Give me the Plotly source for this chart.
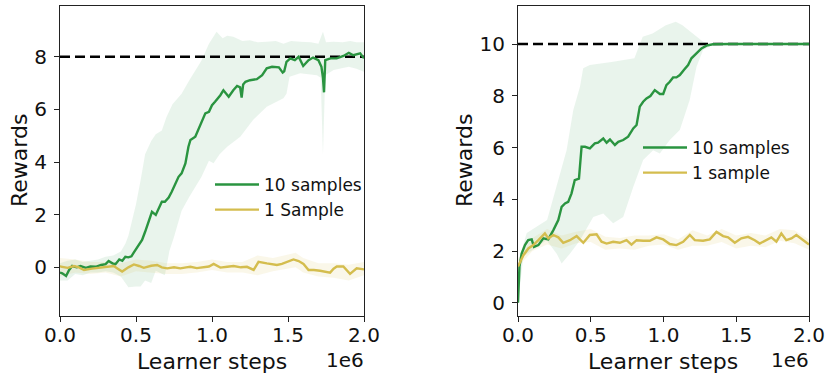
import plotly.graph_objects as go

# ---------------- data (x in units of 1e6 learner steps) ----------------
# Left panel: 10 samples (green) mean
left_10_x = [0.0, 0.015, 0.04, 0.06, 0.08, 0.11, 0.135, 0.17, 0.2, 0.235, 0.27, 0.3, 0.32, 0.345, 0.365,
             0.39, 0.41, 0.43, 0.45, 0.47, 0.485, 0.51, 0.54, 0.56, 0.585, 0.605, 0.63, 0.65, 0.67, 0.69,
             0.715, 0.735, 0.76, 0.78, 0.8, 0.825, 0.845, 0.858, 0.89, 0.91, 0.935, 0.956, 0.98, 1.0,
             1.02, 1.055, 1.075, 1.095, 1.11, 1.14, 1.165, 1.185, 1.195, 1.205, 1.22, 1.25, 1.295, 1.33,
             1.36, 1.395, 1.44, 1.465, 1.475, 1.49, 1.515, 1.545, 1.57, 1.6, 1.635, 1.665, 1.7, 1.72,
             1.73, 1.737, 1.745, 1.78, 1.82, 1.865, 1.9, 1.93, 1.975, 2.0]
left_10_y = [-0.2, -0.23, -0.33, -0.1, 0.05, 0.0, 0.05, -0.02, 0.03, 0.02, 0.09, 0.12, 0.24, 0.15, 0.12,
             0.3, 0.25, 0.4, 0.38, 0.42, 0.56, 0.78, 1.04, 1.35, 1.8, 2.11, 1.99, 2.24, 2.49, 2.49,
             2.65, 2.87, 3.19, 3.44, 3.57, 3.95, 4.58, 4.84, 4.96, 5.22, 5.53, 5.85, 5.91, 6.16,
             6.29, 6.54, 6.73, 6.6, 6.48, 6.73, 6.89, 6.84, 6.45, 6.95, 7.05, 7.11, 7.15, 7.3,
             7.56, 7.62, 7.6, 7.4, 7.45, 7.81, 7.94, 7.87, 8.0, 7.65, 7.87, 7.97, 7.87, 7.62,
             7.2, 6.65, 7.87, 7.94, 7.94, 8.03, 8.15, 8.06, 8.13, 7.94]
left_10_up_x = [0, 0.05, 0.1, 0.15, 0.2, 0.25, 0.3, 0.35, 0.4, 0.43, 0.45, 0.5, 0.53, 0.56, 0.6, 0.63,
                0.67, 0.7, 0.74, 0.8, 0.85, 0.89, 0.93, 0.98, 1.0, 1.03, 1.07, 1.1, 1.14, 1.2, 1.25,
                1.3, 1.36, 1.42, 1.47, 1.52, 1.58, 1.65, 1.7, 1.73, 1.75, 1.8, 1.86, 1.91, 1.95, 2.0]
left_10_up_y = [0.15, 0.25, 0.3, 0.2, 0.25, 0.3, 0.4, 0.45, 0.6, 0.9, 1.2, 2.4, 3.3, 4.3, 4.8, 5.06,
                5.2, 5.7, 6.2, 6.6, 7.1, 7.5, 7.85, 8.5, 8.7, 8.95, 8.7, 8.8, 8.76, 8.6, 8.63,
                8.55, 8.57, 8.6, 8.5, 8.6, 8.57, 8.55, 8.5, 8.95, 8.55, 8.57, 8.55, 8.6, 8.55, 8.55]
left_10_lo_x = [0, 0.05, 0.1, 0.15, 0.2, 0.25, 0.3, 0.35, 0.4, 0.45, 0.5, 0.53, 0.56, 0.6, 0.63, 0.69,
                0.72, 0.75, 0.8, 0.85, 0.93, 0.98, 1.01, 1.05, 1.1, 1.186, 1.27, 1.36, 1.47, 1.49,
                1.51, 1.58, 1.69, 1.715, 1.73, 1.745, 1.8, 1.85, 1.9, 1.95, 2.0]
left_10_lo_y = [-0.5, -0.5, -0.25, -0.3, -0.2, -0.2, -0.15, -0.2, -0.35, -0.76, -0.73, -0.73, -0.5, -0.6,
                -0.13, -0.3, 0.63, 1.15, 2.15, 2.67, 3.43, 4.05, 3.95, 4.3, 4.58, 4.96, 5.6, 6.1, 6.42,
                6.6, 7.24, 7.37, 7.3, 7.2, 4.3, 7.3, 7.5, 7.55, 7.62, 7.55, 7.43]

# Left panel: 1 Sample (yellow) mean
left_1_x = [0.0, 0.004, 0.05, 0.092, 0.125, 0.158, 0.21, 0.267, 0.31, 0.354, 0.38, 0.409, 0.45, 0.486,
            0.52, 0.551, 0.6, 0.639, 0.67, 0.705, 0.75, 0.792, 0.83, 0.858, 0.9, 0.945, 0.98, 1.011,
            1.055, 1.1, 1.142, 1.19, 1.23, 1.274, 1.306, 1.361, 1.427, 1.46, 1.492, 1.536, 1.57,
            1.602, 1.635, 1.67, 1.711, 1.777, 1.8, 1.821, 1.864, 1.908, 1.952, 2.0]
left_1_y = [0.0, 0.03, -0.02, 0.05, 0.0, -0.1, -0.05, 0.0, 0.02, 0.05, -0.05, -0.16, 0.0, 0.11,
            0.05, -0.02, 0.06, 0.09, 0.0, -0.04, 0.0, -0.04, 0.0, 0.02, -0.03, -0.01, 0.03, 0.13,
            -0.01, 0.02, 0.05, 0.0, 0.02, -0.1, 0.21, 0.15, 0.09, 0.13, 0.21, 0.3, 0.24,
            0.13, -0.1, -0.1, -0.13, -0.2, -0.05, 0.03, 0.03, -0.25, -0.04, -0.08]
left_1_band_x = [0, 0.1, 0.2, 0.3, 0.4, 0.5, 0.6, 0.7, 0.8, 0.9, 1.0, 1.1, 1.2, 1.3, 1.4, 1.5, 1.55,
                 1.6, 1.7, 1.8, 1.9, 2.0]
left_1_up_y = [0.35, 0.3, 0.2, 0.2, 0.15, 0.3, 0.25, 0.15, 0.15, 0.2, 0.3, 0.2, 0.2, 0.45, 0.35, 0.5,
               0.55, 0.35, 0.15, 0.15, 0.1, 0.2]
left_1_lo_y = [-0.35, -0.2, -0.25, -0.2, -0.35, -0.15, -0.2, -0.25, -0.25, -0.2, -0.1, -0.2, -0.2,
               -0.3, -0.15, -0.05, 0.0, -0.2, -0.35, -0.4, -0.5, -0.3]

# Right panel: 10 samples (green)
right_10_x = [0.0, 0.005, 0.01, 0.025, 0.048, 0.07, 0.094, 0.11, 0.14, 0.174, 0.208, 0.243, 0.277, 0.3,
              0.323, 0.345, 0.368, 0.39, 0.419, 0.437, 0.46, 0.494, 0.528, 0.55, 0.586, 0.609, 0.632,
              0.666, 0.689, 0.723, 0.757, 0.792, 0.815, 0.837, 0.86, 0.883, 0.91, 0.94, 0.975, 0.998,
              1.02, 1.043, 1.066, 1.089, 1.112, 1.14, 1.169, 1.192, 1.227, 1.261, 1.295, 1.34, 1.455, 2.0]
right_10_y = [0.0, 1.0, 1.4, 1.9, 2.23, 2.42, 2.45, 2.16, 2.23, 2.49, 2.45, 2.81, 3.2, 3.71,
              3.84, 3.9, 4.23, 4.74, 4.8, 6.03, 6.03, 5.97, 6.16, 6.19, 6.35, 6.19, 6.31,
              6.1, 6.22, 6.29, 6.42, 6.74, 6.87, 7.58, 7.77, 7.9, 7.99, 8.22, 8.07, 8.07,
              8.41, 8.54, 8.71, 8.71, 8.8, 9.0, 9.19, 9.45, 9.64, 9.83, 9.94, 9.99, 10.0, 10.0]
right_10_up_x = [0, 0.013, 0.06, 0.2, 0.265, 0.334, 0.38, 0.426, 0.448, 0.494, 0.654, 0.8, 0.857, 0.925,
                 1.016, 1.085, 1.13, 1.2, 1.272, 1.34, 2.0]
right_10_up_y = [0.0, 1.8, 2.7, 3.2, 4.5, 5.9, 7.45, 8.35, 9.06, 9.19, 9.32, 9.45, 10.28, 10.41,
                 10.73, 10.86, 10.73, 10.41, 10.09, 10.0, 10.0]
right_10_lo_x = [0, 0.037, 0.197, 0.266, 0.3, 0.357, 0.426, 0.517, 0.586, 0.654, 0.723, 0.792, 0.86,
                 0.929, 0.975, 1.043, 1.112, 1.18, 1.227, 1.272, 1.34, 2.0]
right_10_lo_y = [0.0, 1.8, 2.42, 1.9, 1.52, 1.9, 2.42, 3.32, 3.45, 3.07, 3.32, 4.48, 5.52,
                 5.9, 5.77, 6.29, 6.68, 7.84, 9.12, 9.77, 9.97, 10.0]

# Right panel: 1 sample (yellow)
right_1_x = [0.0, 0.009, 0.037, 0.071, 0.105, 0.14, 0.185, 0.208, 0.243, 0.277, 0.311, 0.357, 0.403,
             0.449, 0.494, 0.54, 0.574, 0.609, 0.654, 0.7, 0.746, 0.78, 0.815, 0.86, 0.906, 0.952,
             0.998, 1.043, 1.089, 1.135, 1.181, 1.215, 1.272, 1.318, 1.364, 1.41, 1.444, 1.49,
             1.535, 1.581, 1.627, 1.661, 1.707, 1.741, 1.776, 1.81, 1.844, 1.879, 1.913, 1.959, 2.0]
right_1_y = [1.4, 1.52, 1.84, 2.1, 2.23, 2.42, 2.68, 2.49, 2.62, 2.53, 2.32, 2.42, 2.58,
             2.32, 2.62, 2.65, 2.36, 2.29, 2.36, 2.32, 2.42, 2.25, 2.42, 2.4, 2.4, 2.53,
             2.45, 2.27, 2.23, 2.36, 2.62, 2.42, 2.4, 2.45, 2.74, 2.58, 2.53, 2.32,
             2.49, 2.55, 2.42, 2.29, 2.42, 2.53, 2.36, 2.68, 2.42, 2.49, 2.62, 2.42, 2.25]
right_1_band_x = [0, 0.1, 0.2, 0.3, 0.4, 0.5, 0.6, 0.7, 0.8, 0.9, 1.0, 1.1, 1.2, 1.3, 1.4, 1.5, 1.6,
                  1.7, 1.8, 1.9, 2.0]
right_1_up_y = [1.7, 2.5, 2.85, 2.6, 2.75, 2.85, 2.55, 2.5, 2.6, 2.6, 2.65, 2.45, 2.8, 2.6, 2.85,
                2.6, 2.7, 2.6, 2.85, 2.8, 2.45]
right_1_lo_y = [1.4, 2.0, 2.25, 2.1, 2.3, 2.35, 2.05, 2.1, 2.05, 2.2, 2.25, 2.05, 2.2, 2.2, 2.35,
                2.1, 2.2, 2.15, 2.4, 2.3, 2.05]

# Reference (optimal) levels and labels
left_target = 8
right_target = 10
x_range = [0, 2.0]
x_tickvals = [0, 0.5, 1.0, 1.5, 2.0]
x_ticktext = ["0.0", "0.5", "1.0", "1.5", "2.0"]
left_yticks = [0, 2, 4, 6, 8]
right_yticks = [0, 2, 4, 6, 8, 10]
left_labels = ["10 samples", "1 Sample"]
right_labels = ["10 samples", "1 sample"]

# ---------------- styling ----------------
GREEN = "#2a9440"
YELLOW = "#d4bd4e"
GREEN_FILL = "rgba(42,148,64,0.10)"
YELLOW_FILL = "rgba(212,189,78,0.12)"
FONT = "DejaVu Sans"
W, H = 826, 376


def px(xp):
    return xp / W


def py(yp):
    return 1 - yp / H


fig = go.Figure()


def band(xu, yu, xl, yl, color, xa, ya):
    fig.add_trace(go.Scatter(
        x=list(xu) + list(xl)[::-1], y=list(yu) + list(yl)[::-1],
        fill="toself", fillcolor=color, line=dict(width=0), mode="lines",
        hoverinfo="skip", showlegend=False, xaxis=xa, yaxis=ya))


# left panel
band(left_10_up_x, left_10_up_y, left_10_lo_x, left_10_lo_y, GREEN_FILL, "x", "y")
band(left_1_band_x, left_1_up_y, left_1_band_x, left_1_lo_y, YELLOW_FILL, "x", "y")
fig.add_trace(go.Scatter(x=x_range, y=[left_target, left_target], mode="lines",
                         line=dict(color="black", width=2.5, dash="10px,5px"),
                         showlegend=False, xaxis="x", yaxis="y"))
fig.add_trace(go.Scatter(x=left_10_x, y=left_10_y, mode="lines", name=left_labels[0],
                         line=dict(color=GREEN, width=2.4), legend="legend", xaxis="x", yaxis="y"))
fig.add_trace(go.Scatter(x=left_1_x, y=left_1_y, mode="lines", name=left_labels[1],
                         line=dict(color=YELLOW, width=2.4), legend="legend", xaxis="x", yaxis="y"))

# right panel
band(right_10_up_x, right_10_up_y, right_10_lo_x, right_10_lo_y, GREEN_FILL, "x2", "y2")
band(right_1_band_x, right_1_up_y, right_1_band_x, right_1_lo_y, YELLOW_FILL, "x2", "y2")
fig.add_trace(go.Scatter(x=x_range, y=[right_target, right_target], mode="lines",
                         line=dict(color="black", width=2.5, dash="10px,5px"),
                         showlegend=False, xaxis="x2", yaxis="y2"))
fig.add_trace(go.Scatter(x=right_10_x, y=right_10_y, mode="lines", name=right_labels[0],
                         line=dict(color=GREEN, width=2.4), legend="legend2", xaxis="x2", yaxis="y2"))
fig.add_trace(go.Scatter(x=right_1_x, y=right_1_y, mode="lines", name=right_labels[1],
                         line=dict(color=YELLOW, width=2.4), legend="legend2", xaxis="x2", yaxis="y2"))

axis_common = dict(showline=True, mirror=True, linecolor="#222", linewidth=1,
                   ticks="outside", ticklen=5, tickwidth=1, tickcolor="#222",
                   showgrid=False, zeroline=False, automargin=False,
                   tickfont=dict(family=FONT, size=20, color="#111"))

y_dom = [py(316), py(6)]
fig.update_layout(
    width=W, height=H, margin=dict(l=0, r=0, t=0, b=0, autoexpand=False),
    paper_bgcolor="white", plot_bgcolor="white",
    font=dict(family=FONT, color="#111"),
    xaxis=dict(domain=[px(60), px(364)], range=x_range, tickvals=x_tickvals, ticktext=x_ticktext,
               anchor="y", ticklabelstandoff=-4, **axis_common),
    yaxis=dict(domain=y_dom, range=[-1.85, 9.93], tickvals=left_yticks, anchor="x",
               ticklabelstandoff=3, **axis_common),
    xaxis2=dict(domain=[px(518), px(809)], range=x_range, tickvals=x_tickvals, ticktext=x_ticktext,
                anchor="y2", ticklabelstandoff=-4, **axis_common),
    yaxis2=dict(domain=y_dom, range=[-0.51, 11.47], tickvals=right_yticks, anchor="x2",
                ticklabelstandoff=3, **axis_common),
    legend=dict(x=px(210), y=py(167), xanchor="left", yanchor="top", bgcolor="rgba(0,0,0,0)",
                font=dict(family=FONT, size=17, color="#111"), itemwidth=44, tracegroupgap=0),
    legend2=dict(x=px(638), y=py(130), xanchor="left", yanchor="top", bgcolor="rgba(0,0,0,0)",
                 font=dict(family=FONT, size=17, color="#111"), itemwidth=44, tracegroupgap=0),
    showlegend=True,
)

ann_font = dict(family=FONT, size=22, color="#111")
annotations = [
    dict(text="Learner steps", x=px(212), y=py(361), xref="paper", yref="paper",
         showarrow=False, font=ann_font, xanchor="center", yanchor="middle"),
    dict(text="Learner steps", x=px(663), y=py(361), xref="paper", yref="paper",
         showarrow=False, font=ann_font, xanchor="center", yanchor="middle"),
    dict(text="Rewards", x=px(19), y=py(161), xref="paper", yref="paper", textangle=-90,
         showarrow=False, font=ann_font, xanchor="center", yanchor="middle"),
    dict(text="Rewards", x=px(464), y=py(161), xref="paper", yref="paper", textangle=-90,
         showarrow=False, font=ann_font, xanchor="center", yanchor="middle"),
    dict(text="1e6", x=px(366), y=py(360), xref="paper", yref="paper",
         showarrow=False, font=dict(family=FONT, size=20, color="#111"), xanchor="right", yanchor="middle"),
    dict(text="1e6", x=px(811), y=py(360), xref="paper", yref="paper",
         showarrow=False, font=dict(family=FONT, size=20, color="#111"), xanchor="right", yanchor="middle"),
]
fig.update_layout(annotations=annotations)

# remove the default 8px page margin so the figure sits at the window origin; hide the modebar
fig.write_html("out.html", config={"displayModeBar": False},
               post_script="document.body.style.margin='0px';")
